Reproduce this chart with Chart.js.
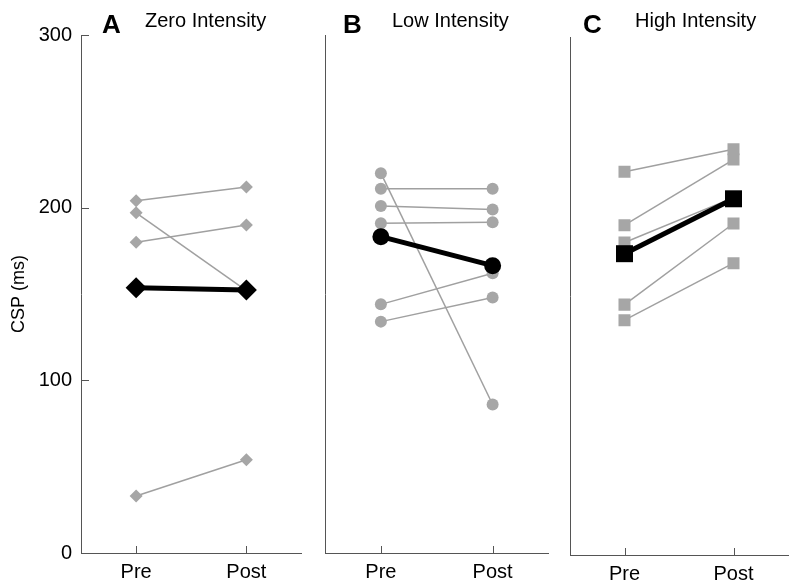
<!DOCTYPE html>
<html>
<head>
<meta charset="utf-8">
<script src="https://cdn.jsdelivr.net/npm/chart.js@4.4.0/dist/chart.umd.min.js"></script>
<style>
    body { margin: 0; background: #fff; }
    .panel { position: absolute; top: 0; height: 587px; }
</style>
</head>
<body>
<div class="panel" style="left:0;width:312px"><canvas id="chart_a"></canvas></div>
<div class="panel" style="left:312px;width:245px"><canvas id="chart_b"></canvas></div>
<div class="panel" style="left:557px;width:243px"><canvas id="chart_c"></canvas></div>
<script>
const CATEGORIES = ['Pre', 'Post']
const Y_TICKS = [0, 100, 200, 300]
const Y_TITLE = 'CSP (ms)'
const PANEL_LETTERS = ['A', 'B', 'C']
const PANEL_TITLES = ['Zero Intensity', 'Low Intensity', 'High Intensity']

// one entry per subject, pre and post values in ms
const ZERO_PRE = [204, 197, 180, 33]
const ZERO_POST = [212, 152, 190, 54]
const ZERO_MEAN = [153.6, 152.3]

const LOW_PRE = [220, 211, 201, 191, 144, 134]
const LOW_POST = [86, 211, 199, 191.5, 162, 148]
const LOW_MEAN = [183.2, 166.4]

const HIGH_PRE = [222, 191, 181, 145, 136]
const HIGH_POST = [235, 229, 207, 192, 169]
const HIGH_MEAN = [174.5, 206.3]

const FONT = 'Arial, "Liberation Sans", sans-serif'
const AXIS_COLOR = '#555555'
const GREY_LINE = '#a0a0a0'
const GREY_MARK = '#a6a6a6'

// ticks point inwards in the reference, so they are drawn here
const panel_decor = {
    id: 'panel_decor',
    afterDraw(chart, args, o) {
        let ctx = chart.ctx
        let area = chart.chartArea
        let xs = chart.scales.x
        let ys = chart.scales.y
        ctx.save()
        ctx.strokeStyle = AXIS_COLOR
        ctx.lineWidth = 1
        ctx.beginPath()
        CATEGORIES.forEach((c, i) => {
            let px = Math.round(xs.getPixelForValue(i)) + 0.5
            ctx.moveTo(px, area.bottom)
            ctx.lineTo(px, area.bottom - 7)
        })
        if (o.y_ticks) {
            Y_TICKS.forEach(v => {
                let py = Math.round(ys.getPixelForValue(v)) + 0.5
                ctx.moveTo(area.left, py)
                ctx.lineTo(area.left + 8, py)
            })
        }
        ctx.stroke()
        ctx.fillStyle = '#000'
        ctx.textBaseline = 'alphabetic'
        ctx.textAlign = 'left'
        ctx.font = 'bold 26px ' + FONT
        ctx.fillText(o.letter, area.left + o.letter_dx, 33)
        ctx.font = '20px ' + FONT
        ctx.fillText(o.title, area.left + o.title_dx, 27)
        ctx.restore()
    }
}

function draw_panel(canvas_id, pre, post, mean, style, layout) {
    let datasets = [{
        'data': mean,
        'order': 0,
        'borderColor': '#000',
        'backgroundColor': '#000',
        'borderWidth': 5,
        'pointStyle': style.shape,
        'pointRadius': style.big,
        'pointBorderWidth': 0
    }]
    pre.forEach((v, i) => {
        datasets.push({
            'data': [v, post[i]],
            'order': 1,
            'borderColor': GREY_LINE,
            'backgroundColor': GREY_MARK,
            'borderWidth': 1.5,
            'pointStyle': style.shape,
            'pointRadius': style.small,
            'pointBorderWidth': 0
        })
    })
    return new Chart(
        document.getElementById(canvas_id).getContext('2d'),
        {
            'type': 'line',
            'data': {
                'labels': CATEGORIES,
                'datasets': datasets
            },
            'plugins': [panel_decor],
            'options': {
                'animation': false,
                'responsive': true,
                'maintainAspectRatio': false,
                'events': [],
                'layout': {
                    'padding': {'top': layout.top, 'right': layout.right, 'left': 0, 'bottom': 0}
                },
                'plugins': {
                    'legend': {'display': false},
                    'tooltip': {'enabled': false},
                    'panel_decor': {
                        'letter': layout.letter,
                        'title': layout.title,
                        'letter_dx': layout.letter_dx,
                        'title_dx': layout.title_dx,
                        'y_ticks': layout.y_labels
                    }
                },
                'scales': {
                    'x': {
                        'type': 'category',
                        'offset': true,
                        'grid': {'display': false, 'drawTicks': false},
                        'border': {'display': true, 'color': AXIS_COLOR, 'width': 1},
                        'ticks': {
                            'color': '#000',
                            'font': {'family': FONT, 'size': 20},
                            'padding': 7,
                            'maxRotation': 0
                        },
                        'afterFit': s => { s.height = layout.bottom }
                    },
                    'y': {
                        'min': 0,
                        'max': 300,
                        'grid': {'display': false, 'drawTicks': false},
                        'border': {'display': true, 'color': AXIS_COLOR, 'width': 1},
                        'ticks': {
                            'display': layout.y_labels,
                            'stepSize': 100,
                            'color': '#000',
                            'font': {'family': FONT, 'size': 20},
                            'padding': 9
                        },
                        'title': {
                            'display': layout.y_labels,
                            'text': Y_TITLE,
                            'color': '#000',
                            'font': {'family': FONT, 'size': 18},
                            'padding': {'top': 8, 'bottom': 0}
                        },
                        'afterFit': s => { s.width = layout.left }
                    }
                }
            }
        })
}

draw_panel('chart_a', ZERO_PRE, ZERO_POST, ZERO_MEAN,
    {'shape': 'rectRot', 'small': 6.5, 'big': 10.5},
    {'top': 35, 'bottom': 34, 'left': 81, 'right': 6, 'y_labels': true,
     'letter': PANEL_LETTERS[0], 'title': PANEL_TITLES[0], 'letter_dx': 21, 'title_dx': 64})
draw_panel('chart_b', LOW_PRE, LOW_POST, LOW_MEAN,
    {'shape': 'circle', 'small': 6, 'big': 8.5},
    {'top': 35, 'bottom': 34, 'left': 13, 'right': 8, 'y_labels': false,
     'letter': PANEL_LETTERS[1], 'title': PANEL_TITLES[1], 'letter_dx': 18, 'title_dx': 67})
draw_panel('chart_c', HIGH_PRE, HIGH_POST, HIGH_MEAN,
    {'shape': 'rect', 'small': 8.5, 'big': 12},
    {'top': 37, 'bottom': 32, 'left': 13, 'right': 6, 'y_labels': false,
     'letter': PANEL_LETTERS[2], 'title': PANEL_TITLES[2], 'letter_dx': 13, 'title_dx': 65})
</script>
</body>
</html>
